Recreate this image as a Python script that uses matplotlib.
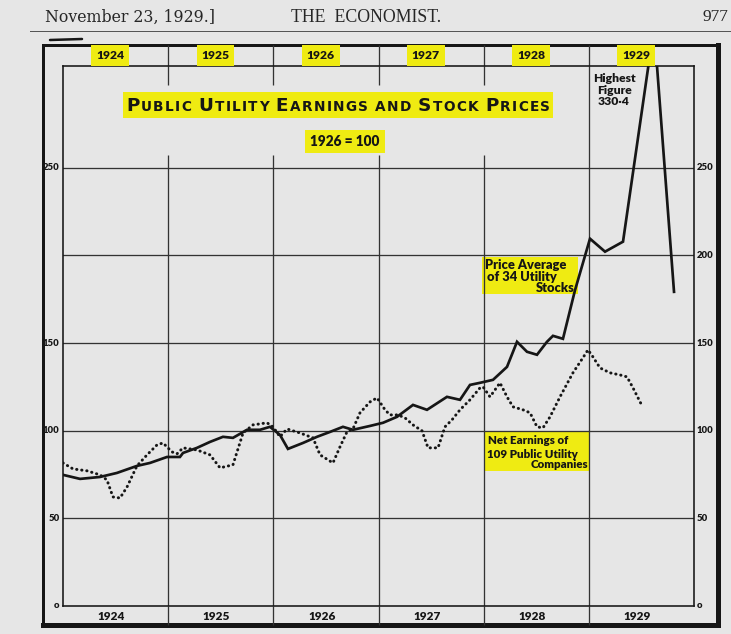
import matplotlib
matplotlib.use("Agg")
import matplotlib.pyplot as plt
from matplotlib.patches import Rectangle

# ---------------- data ----------------
years = [1924, 1925, 1926, 1927, 1928, 1929]
year_labels = ["1924", "1925", "1926", "1927", "1928", "1929"]

# Price average of 34 utility stocks (1926 = 100)
price_t = [1924.000, 1924.162, 1924.352, 1924.513, 1924.703, 1924.827, 1924.989,
           1925.112, 1925.141, 1925.274, 1925.398, 1925.521, 1925.616, 1925.750,
           1925.873, 1925.968, 1926.063, 1926.139, 1926.282, 1926.415, 1926.539,
           1926.662, 1926.757, 1926.919, 1927.043, 1927.176, 1927.328, 1927.461,
           1927.651, 1927.775, 1927.870, 1927.965, 1928.089, 1928.222, 1928.317,
           1928.412, 1928.507, 1928.602, 1928.659, 1928.754, 1928.868, 1929.011,
           1929.154, 1929.325, 1929.620, 1929.810]
price_v = [74.8, 72.5, 73.6, 75.9, 79.9, 81.6, 85.0,
           85.0, 87.3, 90.2, 93.6, 96.5, 95.9, 100.5,
           100.5, 102.2, 97.6, 89.6, 93.0, 96.5, 99.3,
           102.2, 100.5, 102.7, 104.5, 107.9, 114.7, 111.9,
           119.3, 117.6, 126.1, 127.3, 129.0, 136.4, 150.7,
           145.0, 143.3, 150.7, 154.1, 152.4, 180.0, 209.5,
           202.1, 207.8, 330.4, 179.2]

# Net earnings of 109 public utility companies (1926 = 100)
earn_t = [1924.000, 1924.095, 1924.228, 1924.352, 1924.418, 1924.475, 1924.542,
          1924.609, 1924.703, 1924.799, 1924.894, 1924.951, 1925.036, 1925.084,
          1925.141, 1925.274, 1925.398, 1925.493, 1925.616, 1925.712, 1925.807,
          1925.940, 1925.997, 1926.063, 1926.130, 1926.253, 1926.377, 1926.444,
          1926.567, 1926.634, 1926.700, 1926.757, 1926.824, 1926.919, 1926.986,
          1927.062, 1927.109, 1927.185, 1927.252, 1927.328, 1927.414, 1927.471,
          1927.566, 1927.632, 1927.699, 1927.775, 1927.870, 1927.965, 1927.994,
          1928.060, 1928.108, 1928.155, 1928.222, 1928.279, 1928.374, 1928.441,
          1928.507, 1928.564, 1928.631, 1928.726, 1928.849, 1928.944, 1928.992,
          1929.039, 1929.106, 1929.201, 1929.296, 1929.363, 1929.420, 1929.506]
earn_v = [81.6, 78.2, 77.1, 74.8, 71.9, 62.2, 61.6,
          67.9, 79.9, 86.2, 91.9, 93.0, 87.9, 86.8,
          90.2, 89.0, 86.2, 78.8, 80.5, 98.7, 103.3,
          104.5, 102.2, 96.5, 101.0, 98.7, 95.9, 86.2,
          81.6, 90.8, 99.3, 101.0, 110.2, 116.4, 118.7,
          111.9, 109.0, 109.0, 107.3, 103.3, 99.9, 90.2,
          90.2, 102.2, 106.2, 111.9, 117.6, 124.4, 125.0,
          119.3, 123.3, 127.3, 119.3, 113.6, 111.9, 110.2,
          102.2, 101.6, 107.9, 119.3, 133.0, 141.6, 146.1,
          142.1, 135.8, 133.0, 131.8, 130.7, 124.4, 114.2]

right_ticks = [0, 50, 100, 150, 200, 250]
left_ticks = [0, 50, 100, 150, 250]
grid_levels = [50, 100, 150, 200, 250]
highest = 330.4

# ---------------- style ----------------
W, H = 731, 634
PAPER = "#e6e6e6"
INK = "#161616"
GRID = "#333333"
YEL = "#efeb12"
PX = 0.72  # points per pixel at dpi 100
LET = "Lato"
HEAVY = "heavy"

fig = plt.figure(figsize=(W / 100, H / 100), dpi=100, facecolor=PAPER)
bg = fig.add_axes([0, 0, 1, 1])
bg.set_xlim(0, W)
bg.set_ylim(H, 0)
bg.axis("off")

L, R, T, B = 63, 694, 66, 606
ax = fig.add_axes([L / W, (H - B) / H, (R - L) / W, (B - T) / H])
YMAX = 308.0
ax.set_xlim(1924, 1930)
ax.set_ylim(0, YMAX)
ax.patch.set_alpha(0)
ax.set_xticks([])
ax.set_yticks([])
for s in ax.spines.values():
    s.set_linewidth(1.6 * PX)
    s.set_color(INK)
upx = YMAX / (B - T)  # data units per pixel (vertical)

# ---------------- page header ----------------
bg.text(45, 17, "November 23, 1929.]", fontsize=11.3, family="DejaVu Serif",
        color="#262626", ha="left", va="center")
bg.text(366, 17, "THE  ECONOMIST.", fontsize=12.8, family="Liberation Serif",
        color="#262626", ha="center", va="center")
bg.text(728, 17, "977", fontsize=12.5, family="Liberation Serif",
        color="#262626", ha="right", va="center")
bg.plot([30, 731], [31, 31], color="#555555", lw=1.0 * PX)
bg.plot([50, 82], [40, 39], color=INK, lw=2.5 * PX, solid_capstyle="round")

# ---------------- outer frame ----------------
bg.plot([43, 718], [45, 45], color=INK, lw=3 * PX, solid_capstyle="projecting")
bg.plot([43, 43], [45, 625], color=INK, lw=3 * PX, solid_capstyle="projecting")
bg.plot([718, 718], [45, 625], color=INK, lw=5 * PX, solid_capstyle="projecting")
bg.plot([43, 718], [625, 625], color=INK, lw=5 * PX, solid_capstyle="projecting")

# ---------------- yellow highlight boxes ----------------
bg.add_patch(Rectangle((123, 92), 430, 26, fc=YEL, ec="none", zorder=0))
bg.add_patch(Rectangle((305, 130), 80, 23, fc=YEL, ec="none", zorder=0))
bg.add_patch(Rectangle((482, 257), 96, 37, fc=YEL, ec="none", zorder=0))
bg.add_patch(Rectangle((485, 431), 105, 40, fc=YEL, ec="none", zorder=0))

# ---------------- grid ----------------
GLW = 1.3 * PX
for lv in grid_levels:
    ax.axhline(lv, color=GRID, lw=GLW, zorder=1)
v_lo = (B - 155) * upx
v_hi = (B - 85) * upx
for yr in years[1:]:
    if yr < 1929:
        ax.vlines(yr, 0, v_lo, color=GRID, lw=GLW, zorder=1)
        ax.vlines(yr, v_hi, YMAX, color=GRID, lw=GLW, zorder=1)
    else:
        ax.vlines(yr, 0, YMAX, color=GRID, lw=GLW, zorder=1)
# dividers in the top and bottom year bands
ax.vlines(years[1:], YMAX, YMAX + 21 * upx, color=GRID, lw=GLW, clip_on=False)
ax.vlines(years[1:], -19 * upx, 0, color=GRID, lw=GLW, clip_on=False)

# ---------------- year labels ----------------
for yr, lab in zip(years, year_labels):
    ax.text(yr + 0.45, YMAX + 10.5 * upx, lab, ha="center", va="center",
            fontsize=8.7, fontweight=HEAVY, family=LET, color=INK, clip_on=False,
            bbox=dict(boxstyle="square,pad=0.4", fc=YEL, ec="none"))
    ax.text(yr + 0.46, -10 * upx, lab, ha="center", va="center",
            fontsize=8.5, fontweight=HEAVY, family=LET, color=INK, clip_on=False)

# ---------------- value labels ----------------
for v in right_ticks:
    ax.annotate("o" if v == 0 else str(v), xy=(1, v), xycoords=("axes fraction", "data"),
                xytext=(2.2, 0), textcoords="offset points", ha="left", va="center",
                fontsize=6.8, fontweight=HEAVY, family=LET, color=INK)
for v in left_ticks:
    ax.annotate("o" if v == 0 else str(v), xy=(0, v), xycoords=("axes fraction", "data"),
                xytext=(-2.5, 0), textcoords="offset points", ha="right", va="center",
                fontsize=6.8, fontweight=HEAVY, family=LET, color=INK)

# ---------------- series ----------------
ax.plot(price_t, price_v, color=INK, lw=2.7 * PX, solid_joinstyle="miter", zorder=3)
ax.plot(earn_t, earn_v, color=INK, lw=3.0 * PX, linestyle=(0, (0.1, 1.6)),
        dash_capstyle="round", zorder=3)

# ---------------- title in small caps ----------------
renderer = fig.canvas.get_renderer()
words = ["Public", "Utility", "Earnings", "and", "Stock", "Prices"]
BIG, SMALL = 13.2, 9.8
pieces = []
for i, wd in enumerate(words):
    if i:
        pieces.append((" ", SMALL))
    for j, ch in enumerate(wd):
        big = (j == 0 and wd != "and")
        pieces.append((ch.upper(), BIG if big else SMALL))
texts, widths = [], []
for ch, fs in pieces:
    if ch == " ":
        texts.append(None)
        widths.append(fs * 100 / 72 * 0.30)
        continue
    t = bg.text(0, 111, ch, fontsize=fs, fontweight="bold", family="DejaVu Sans",
                color=INK, ha="left", va="baseline")
    texts.append(t)
    widths.append(t.get_window_extent(renderer).width)
track = (550 - 126 - sum(widths)) / (len(pieces) - 1)
x = 126
for t, w in zip(texts, widths):
    if t is not None:
        t.set_x(x)
    x += w + track

bg.text(345, 142, "1926 = 100", ha="center", va="center", fontsize=9.8,
        fontweight=HEAVY, family=LET, color=INK)

# ---------------- annotations ----------------
bg.text(614, 90, "Highest\nFigure\n" + f"{highest:.1f}".replace(".", "·"),
        ha="center", va="center", fontsize=8.7, fontweight=HEAVY, family=LET,
        color=INK, linespacing=1.05)

bg.text(485, 265, "Price Average", ha="left", va="center", fontsize=9.3,
        fontweight=HEAVY, family=LET, color=INK)
bg.text(487, 277, "of 34 Utility", ha="left", va="center", fontsize=9.3,
        fontweight=HEAVY, family=LET, color=INK)
bg.text(575, 288, "Stocks", ha="right", va="center", fontsize=9.3,
        fontweight=HEAVY, family=LET, color=INK)

bg.text(488, 441, "Net Earnings of", ha="left", va="center", fontsize=8.3,
        fontweight=HEAVY, family=LET, color=INK)
bg.text(487, 454, "109 Public Utility", ha="left", va="center", fontsize=8.3,
        fontweight=HEAVY, family=LET, color=INK)
bg.text(588, 465, "Companies", ha="right", va="center", fontsize=8.3,
        fontweight=HEAVY, family=LET, color=INK)

fig.savefig("out.png", dpi=100, facecolor=PAPER)
